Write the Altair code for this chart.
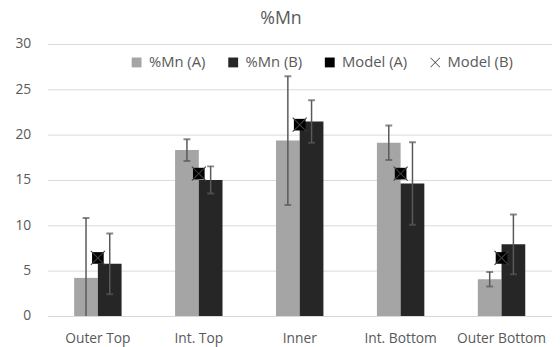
import altair as alt
import pandas as pd

categories = ["Outer Top", "Int. Top", "Inner", "Int. Bottom", "Outer Bottom"]
mn_a = [4.2, 18.3, 19.35, 19.1, 4.05]
mn_b = [5.75, 15.0, 21.45, 14.6, 7.9]
err_a = [6.6, 1.2, 7.1, 1.9, 0.8]
err_b = [3.35, 1.5, 2.35, 4.55, 3.3]
model_a = [6.4, 15.7, 21.1, 15.7, 6.4]
model_b = [6.4, 15.7, 21.1, 15.7, 6.4]

series = ["%Mn (A)", "%Mn (B)", "Model (A)", "Model (B)"]
colors = ["#a5a5a5", "#262626", "#000000", "#404040"]
X_PATH = ("M-1,-0.9L-0.9,-1L0,-0.1L0.9,-1L1,-0.9L0.1,0L1,0.9L0.9,1"
          "L0,0.1L-0.9,1L-1,0.9L-0.1,0Z")
shapes = ["square", "square", "square", X_PATH]

rows = []
for i, c in enumerate(categories):
    rows.append(dict(cat=c, series=series[0], value=mn_a[i],
                     lo=mn_a[i] - err_a[i], hi=mn_a[i] + err_a[i]))
    rows.append(dict(cat=c, series=series[1], value=mn_b[i],
                     lo=mn_b[i] - err_b[i], hi=mn_b[i] + err_b[i]))
bars_df = pd.DataFrame(rows)
ma_df = pd.DataFrame(dict(cat=categories, series=series[2], value=model_a))
mb_df = pd.DataFrame(dict(cat=categories, series=series[3], value=model_b))

FONT = "Open Sans"
GRAY = "#595959"

color_scale = alt.Scale(domain=series, range=colors)
shape_scale = alt.Scale(domain=series, range=shapes)
legend = alt.Legend(title=None, orient="none", legendX=83, legendY=11,
                    direction="horizontal", columns=4)

x = alt.X("cat:N", sort=categories,
          scale=alt.Scale(paddingInner=0.53, paddingOuter=0.265),
          axis=alt.Axis(title=None, labelAngle=0, ticks=False, grid=False,
                        domainColor="#d9d9d9", domainWidth=1,
                        labelPadding=16, labelFontSize=14, labelColor=GRAY,
                        labelFont=FONT))
y_scale = alt.Scale(domain=[0, 30], nice=False)
y = alt.Y("value:Q", scale=y_scale,
          axis=alt.Axis(title=None, values=[0, 5, 10, 15, 20, 25, 30],
                        domain=False, ticks=False, gridColor="#d9d9d9",
                        labelPadding=17, labelFontSize=14, labelColor=GRAY,
                        labelFont=FONT))
xoff = alt.XOffset("series:N", scale=alt.Scale(domain=series[:2], paddingInner=0,
                                               paddingOuter=0))

bars = alt.Chart(bars_df).mark_bar().encode(
    x=x, xOffset=xoff, y=y,
    color=alt.Color("series:N", scale=color_scale, legend=legend),
)
rules = alt.Chart(bars_df).mark_rule(color=GRAY, strokeWidth=1.5, clip=True).encode(
    x=x, xOffset=xoff, y=alt.Y("lo:Q", scale=y_scale), y2="hi:Q")
cap_hi = alt.Chart(bars_df).mark_tick(color=GRAY, size=7, thickness=2, clip=True).encode(
    x=x, xOffset=xoff, y=alt.Y("hi:Q", scale=y_scale))
cap_lo = alt.Chart(bars_df).mark_tick(color=GRAY, size=7, thickness=2, clip=True).encode(
    x=x, xOffset=xoff, y=alt.Y("lo:Q", scale=y_scale))

pts_a = alt.Chart(ma_df).mark_point(filled=True, size=140, opacity=1).encode(
    x=x, y=y,
    color=alt.Color("series:N", scale=color_scale, legend=legend),
    shape=alt.Shape("series:N", scale=shape_scale, legend=legend),
)
pts_b = alt.Chart(mb_df).mark_point(filled=True, size=225, opacity=1).encode(
    x=x, y=y,
    color=alt.Color("series:N", scale=color_scale, legend=legend),
    shape=alt.Shape("series:N", scale=shape_scale, legend=legend),
)

chart = alt.layer(bars, rules, cap_hi, cap_lo, pts_a, pts_b).properties(
    width=512, height=276,
    title=alt.TitleParams("%Mn", fontSize=18, color=GRAY, font=FONT,
                          fontWeight="normal", offset=9, dx=-19),
    autosize=alt.AutoSizeParams(type="none"),
    padding={"left": 40, "top": 34, "right": 0, "bottom": 30},
    background="white",
).configure_view(stroke=None).configure_legend(
    symbolSize=100, labelFontSize=15, labelColor=GRAY, labelFont=FONT,
    columnPadding=20, labelOffset=5, symbolStrokeWidth=0, labelLimit=200,
)

chart.save("out.html", embed_options={"renderer": "svg", "actions": False})
